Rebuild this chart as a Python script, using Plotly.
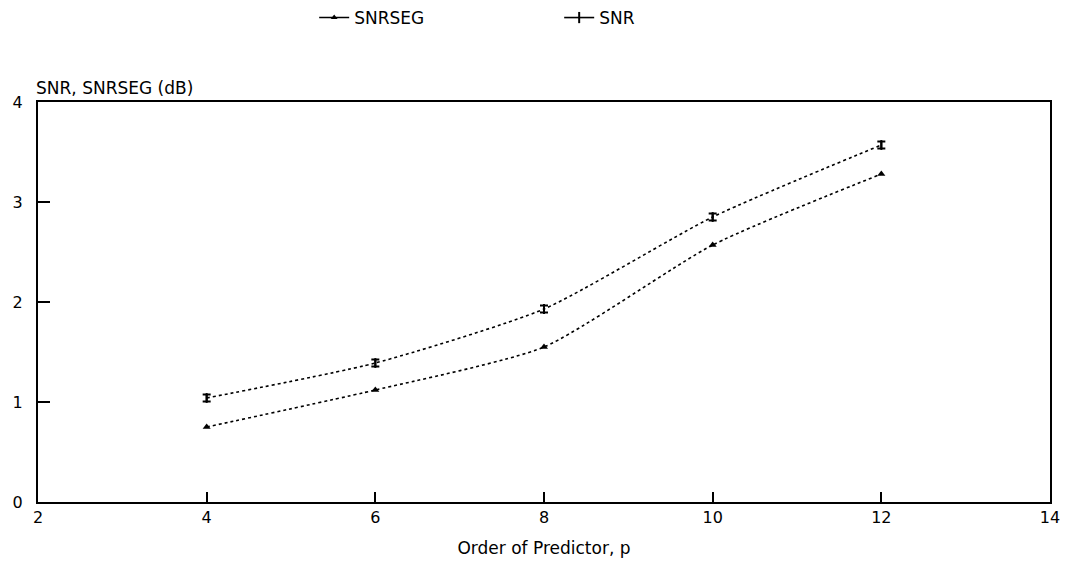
import plotly.graph_objects as go

order_p = [4, 6, 8, 10, 12]
snrseg = [0.75, 1.12, 1.55, 2.57, 3.28]
snr = [1.04, 1.39, 1.93, 2.85, 3.57]

x_ticks = [2, 4, 6, 8, 10, 12, 14]
y_ticks = [0, 1, 2, 3, 4]

FONT = "DejaVu Sans"

fig = go.Figure()
fig.add_trace(go.Scatter(
    x=order_p, y=snrseg, name="SNRSEG", mode="lines+markers", showlegend=False,
    legendgroup="seg",
    line=dict(color="black", width=1.6, dash="dot", shape="spline", smoothing=0.6),
    marker=dict(symbol="triangle-up", size=7, color="black"),
))
fig.add_trace(go.Scatter(
    x=order_p, y=snr, name="SNR", mode="lines+markers", showlegend=False,
    legendgroup="snr",
    line=dict(color="black", width=1.6, dash="dot", shape="spline", smoothing=0.6),
    marker=dict(symbol="line-ns", size=7, color="black", line=dict(color="black", width=2)),
    error_y=dict(type="constant", value=0.035, width=4, thickness=2, color="black"),
))
# legend entries (solid sample lines as in the original)
fig.add_trace(go.Scatter(
    x=[None], y=[None], name="SNRSEG", mode="lines+markers", legendgroup="seg",
    line=dict(color="black", width=1.6),
    marker=dict(symbol="triangle-up", size=6, color="black"),
))
fig.add_trace(go.Scatter(
    x=[None], y=[None], name="SNR", mode="lines+markers", legendgroup="snr",
    line=dict(color="black", width=1.6),
    marker=dict(symbol="line-ns", size=8, color="black", line=dict(color="black", width=2)),
))

fig.update_layout(
    width=1072, height=583,
    paper_bgcolor="white", plot_bgcolor="white",
    margin=dict(l=38, r=19, t=102, b=81),
    font=dict(family=FONT, size=16, color="black"),
    showlegend=True,
    legend=dict(orientation="h", x=0.515, xanchor="center", y=1.0, yanchor="top",
                yref="container", font=dict(size=17), entrywidth=200,
                bgcolor="rgba(0,0,0,0)"),
    xaxis=dict(range=[2, 14], tickvals=x_ticks, ticks="inside", ticklen=10,
               tickwidth=1.5, tickcolor="black", showline=True, linecolor="black",
               linewidth=2, mirror=True, showgrid=False, zeroline=False,
               title=dict(text="Order of Predictor, p", font=dict(size=17), standoff=16)),
    yaxis=dict(range=[0, 4], tickvals=y_ticks, ticks="inside", ticklen=12,
               tickwidth=1.5, tickcolor="black", showline=True, linecolor="black",
               linewidth=2, mirror=True, showgrid=False, zeroline=False,
               ticklabelstandoff=10),
    annotations=[dict(text="SNR, SNRSEG (dB)", x=0, xref="paper", xanchor="left",
                      y=1.0, yref="paper", yanchor="bottom", yshift=2, xshift=-4,
                      showarrow=False, font=dict(size=17))],
)

fig.write_html("out.html")
